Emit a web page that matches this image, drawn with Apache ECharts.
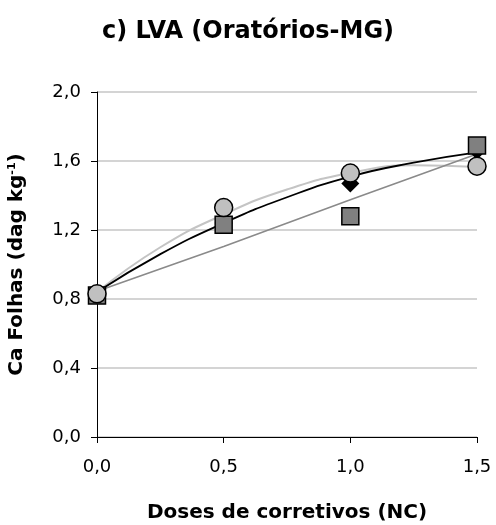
<!DOCTYPE html>
<html>
<head>
<meta charset="utf-8">
<script src="https://cdn.jsdelivr.net/npm/echarts@6/dist/echarts.min.js"></script>
<style>
html,body{margin:0;padding:0;background:#fff;}
#chart{width:496px;height:525px;}
</style>
</head>
<body>
<div id="chart"></div>
<script>
// Observed data points (doses in NC)
const doses = [0, 0.5, 1.0, 1.5];
const caDiamond = [0.83, 1.24, 1.47, 1.66];
const caSquare = [0.82, 1.23, 1.28, 1.69];
const caCircle = [0.83, 1.33, 1.53, 1.57];

// Trend lines
const trendX = [0, 0.25, 0.5, 0.75, 1.0, 1.25, 1.5];
const trendDiamond = [0.84, 1.06, 1.24, 1.39, 1.51, 1.59, 1.65];
const trendCircle = [0.84, 1.10, 1.29, 1.435, 1.53, 1.575, 1.565];
const trendSquare = [0.845, 1.105, 1.375, 1.64];

// Tick labels
const xTickLabels = ['0,0', '0,5', '1,0', '1,5'];
const yTickLabels = ['0,0', '0,4', '0,8', '1,2', '1,6', '2,0'];

const titleText = 'c) LVA (Oratórios-MG)';
const xName = 'Doses de corretivos (NC)';

function pairs(xs, ys) { return xs.map((x, i) => [x, ys[i]]); }

const FONT = 'DejaVu Sans';
const chart = echarts.init(document.getElementById('chart'), null, {renderer: 'canvas'});
chart.setOption({
  animation: false,
  backgroundColor: '#ffffff',
  title: {
    text: titleText,
    left: 'center',
    top: 20,
    padding: 0,
    textStyle: {fontFamily: FONT, fontWeight: 'bold', fontSize: 24, color: '#000'}
  },
  grid: {left: 97, right: 19, top: 92, bottom: 88, containLabel: false, outerBoundsMode: 'none'},
  xAxis: {
    type: 'value', min: 0, max: 1.5, interval: 0.5,
    name: xName, nameLocation: 'middle', nameGap: 66,
    nameTextStyle: {fontFamily: FONT, fontWeight: 'bold', fontSize: 20, color: '#000'},
    axisLine: {show: true, onZero: false, lineStyle: {color: '#000', width: 1}},
    axisTick: {show: true, length: 6, lineStyle: {color: '#000', width: 1}},
    axisLabel: {
      margin: 21, fontFamily: FONT, fontSize: 18, color: '#000',
      formatter: v => xTickLabels[Math.round(v / 0.5)]
    },
    splitLine: {show: false}
  },
  yAxis: {
    type: 'value', min: 0, max: 2.0, interval: 0.4,
    name: 'Ca Folhas (dag kg{sup|-1})', nameLocation: 'middle', nameGap: 70,
    nameRotate: 90,
    nameTextStyle: {
      fontFamily: FONT, fontWeight: 'bold', fontSize: 20, color: '#000',
      rich: {
        sup: {fontFamily: FONT, fontWeight: 'bold', fontSize: 11, color: '#000', verticalAlign: 'top', padding: [0, 0, 8, 0]}
      }
    },
    axisLine: {show: true, lineStyle: {color: '#000', width: 1}},
    axisTick: {show: true, length: 6, lineStyle: {color: '#000', width: 1}},
    axisLabel: {
      margin: 16, fontFamily: FONT, fontSize: 18, color: '#000',
      formatter: v => yTickLabels[Math.round(v / 0.4)]
    },
    splitLine: {show: true, lineStyle: {color: '#c6c6c6', width: 1.6}}
  },
  series: [
    {
      type: 'line', data: pairs(trendX, trendCircle), smooth: true, showSymbol: false,
      lineStyle: {color: '#c4c4c4', width: 2}, z: 2, silent: true
    },
    {
      type: 'line', data: pairs(doses, trendSquare), smooth: false, showSymbol: false,
      lineStyle: {color: '#8a8a8a', width: 1.6}, z: 2, silent: true
    },
    {
      type: 'line', data: pairs(trendX, trendDiamond), smooth: true, showSymbol: false,
      lineStyle: {color: '#000000', width: 1.8}, z: 3, silent: true
    },
    {
      type: 'scatter', data: pairs(doses, caDiamond), symbol: 'diamond', symbolSize: 18,
      itemStyle: {color: '#000000', opacity: 1}, z: 4
    },
    {
      type: 'scatter', data: pairs(doses, caSquare), symbol: 'rect', symbolSize: 17,
      itemStyle: {color: '#808080', borderColor: '#000', borderWidth: 1.5, opacity: 1}, z: 5
    },
    {
      type: 'scatter', data: pairs(doses, caCircle), symbol: 'circle', symbolSize: 18,
      itemStyle: {color: '#c0c0c0', borderColor: '#000', borderWidth: 1.5, opacity: 1}, z: 6
    }
  ]
});
</script>
</body>
</html>
